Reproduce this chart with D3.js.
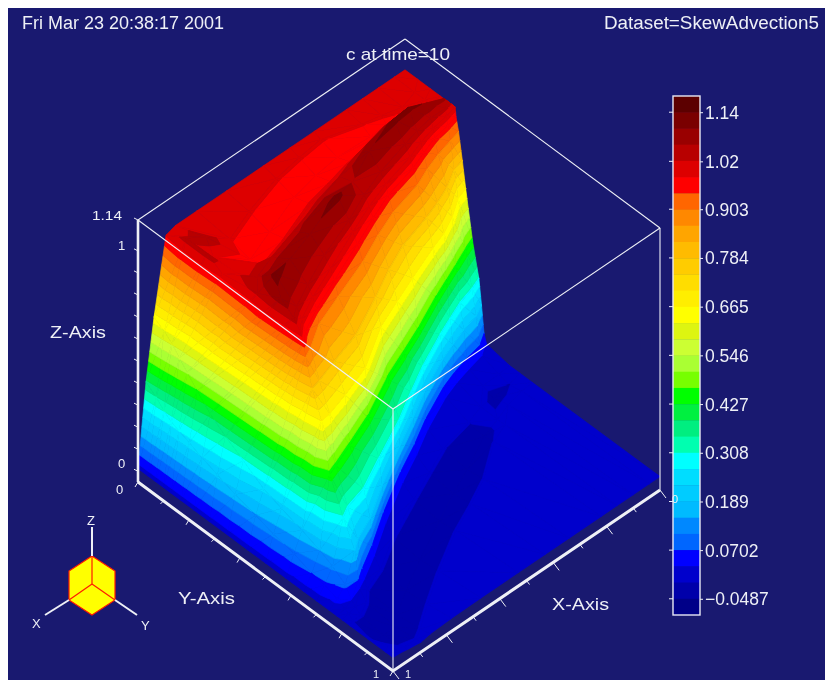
<!DOCTYPE html>
<html><head><meta charset="utf-8">
<script src="https://cdn.jsdelivr.net/npm/d3@7"></script>
<style>html,body{margin:0;background:#fff}svg{display:block}text{font-family:"Liberation Sans",Arial,sans-serif;fill:#eef0f6}</style>
</head><body><svg id="c" width="825" height="680"></svg>
<script>
const bandColors=["#5c0000","#7a0000","#990000","#b80000","#dd0000","#ff0000","#ff6600","#ff8800","#ffa500","#ffbb00","#ffcc00","#ffdd00","#ffee00","#ffff00","#ddf511","#ccff33","#aaff33","#77ff00","#00ff00","#00f040","#00ee80","#00ffb0","#00ffff","#00ddff","#00ccff","#00bbff","#0088ff","#0066ff","#0000ff","#0000cc","#0000aa","#000088"];
const legendTicks=[1.14,1.02,0.903,0.784,0.665,0.546,0.427,0.308,0.189,0.0702,-0.0487];
const legendLabels=["1.14","1.02","0.903","0.784","0.665","0.546","0.427","0.308","0.189","0.0702","\u22120.0487"];
const bandDomain=[-0.0883,1.1796];
const zDomain=[-0.0487,1.14];
const zTicks=[0,0.1,0.2,0.3,0.4,0.5,0.6,0.7,0.8,0.9,1,1.14];
const axisTicks=[0,0.1,0.2,0.3,0.4,0.5,0.6,0.7,0.8,0.9,1];
const vRows=[0,0.03,0.06,0.105,0.14,0.22,0.33,0.47,0.57,0.66,0.78,0.84,0.9,0.96,1];
const uMesh=[
[0,.03,.1,.17,.2,.22,.25,.3,.35,.42,.5,.57,.65,.72,.78,.83,.87,.9,.93,.96,1],
[0,.05,.1,.19,.205,.22,.25,.3,.35,.42,.5,.57,.65,.72,.78,.83,.87,.9,.93,.96,1],
[0,.02,.1,.19,.21,.225,.25,.3,.35,.42,.5,.57,.65,.72,.78,.83,.87,.9,.93,.96,1],
[0,.02,.1,.215,.24,.245,.26,.305,.358,.39,.427,.453,.459,.475,.5,.55,.64,.78,.84,.92,1],
[0,.04,.13,.25,.257,.268,.285,.324,.37,.395,.435,.47,.49,.505,.525,.61,.68,.76,.85,.88,1],
[0,.095,.18,.28,.302,.313,.32,.345,.4,.418,.46,.52,.53,.545,.565,.635,.705,.735,.79,.87,1],
[0,.165,.24,.345,.372,.383,.388,.4,.443,.455,.492,.56,.575,.59,.615,.67,.735,.765,.83,.91,1],
[0,.245,.31,.41,.452,.463,.465,.468,.513,.54,.56,.61,.632,.65,.665,.71,.775,.815,.88,.95,1],
[0,.29,.36,.455,.502,.513,.518,.525,.553,.58,.612,.655,.675,.69,.71,.755,.805,.835,.9,.965,1],
[0,.335,.4,.495,.552,.563,.568,.574,.59,.615,.652,.69,.71,.72,.74,.785,.83,.855,.91,.975,1],
[0,.42,.46,.52,.607,.618,.623,.63,.645,.66,.685,.72,.738,.75,.77,.815,.855,.875,.905,.94,1],
[0,.44,.47,.535,.627,.638,.645,.655,.67,.68,.705,.745,.76,.77,.785,.82,.855,.885,.905,.925,1],
[0,.49,.55,.59,.642,.653,.665,.679,.695,.71,.73,.765,.78,.785,.795,.81,.835,.875,.89,.905,1],
[0,.5,.55,.59,.655,.665,.68,.695,.72,.75,.765,.78,.79,.795,.8,.805,.82,.86,.88,.92,1],
[0,.5,.55,.59,.68,.69,.7,.71,.735,.762,.775,.79,.8,.803,.806,.81,.83,.86,.9,.95,1]
];
const zMesh=[
[.012,.012,.012,.012,.012,.012,.012,.012,.012,.012,.012,.012,.012,.012,.012,.012,.012,.012,.012,.012,.012],
[.01,.002,-.02,-.008,.012,.02,.04,.06,.07,.1,.12,.145,.17,.2,.225,.25,.27,.285,.31,.345,.38],
[.003,-.006,-.02,-.008,.015,.03,.08,.12,.15,.18,.21,.24,.3,.35,.4,.46,.51,.55,.59,.62,.65],
[-.004,-.008,-.02,-.008,.03,.07,.19,.3,.45,.665,.78,.9,.96,1,1.04,1.085,1.03,1,1.04,1.04,.985],
[.005,-.008,-.02,-.008,.03,.07,.19,.3,.45,.665,.78,.9,.96,1,1.04,1.115,1.04,.99,.985,1.05,1],
[.01,-.008,-.02,-.008,.03,.07,.19,.3,.45,.665,.78,.9,.96,1,1.04,1.095,1.045,.985,.96,.985,1],
[.012,-.008,-.02,-.008,.03,.07,.19,.3,.45,.665,.78,.9,.96,1,1.04,1.09,1.045,.985,.96,.985,1],
[.012,-.008,-.02,-.008,.03,.07,.19,.3,.45,.665,.78,.9,.96,1,1.04,1.115,1.045,.985,.96,.985,1],
[.012,-.008,-.02,-.008,.03,.07,.19,.3,.45,.665,.78,.9,.96,1,1.035,1.055,1.035,.985,.96,.985,1],
[.012,-.008,-.02,-.008,.03,.07,.19,.3,.45,.665,.78,.9,.96,1,1.04,1.095,1.045,.985,.96,.985,1],
[.012,-.008,-.02,-.008,.03,.07,.19,.3,.45,.665,.78,.9,.96,1,1.04,1.115,1.045,.985,.96,.985,1],
[.012,.002,0,.002,.03,.07,.19,.3,.45,.665,.78,.9,.96,1,1.04,1.115,1.045,.99,.965,.99,1],
[.012,0,-.02,0,.03,.07,.19,.3,.45,.665,.78,.9,.96,1,1.04,1.095,1.04,.995,.975,.995,1],
[.012,.003,-.01,.003,.03,.07,.19,.3,.45,.665,.78,.9,.96,1,1.03,1.07,1.03,1,1,1,1],
[.012,.01,.01,.01,.03,.07,.19,.3,.45,.665,.78,.9,.96,1,1,1,1,1,1,1,1]
];

const svg=d3.select("#c");
svg.append("rect").attr("x",8).attr("y",8).attr("width",817).attr("height",672).attr("fill","#191970");
const root=svg.append("g").style("filter","blur(0.45px)");

const uX=d3.scaleLinear().domain([0,1]).range([0,-255]);
const uY=d3.scaleLinear().domain([0,1]).range([0,-189]);
const vX=d3.scaleLinear().domain([0,1]).range([0,267]);
const vY=d3.scaleLinear().domain([0,1]).range([0,-181]);
const zH=d3.scaleLinear().domain(zDomain).range([0,262]);
const origin=[393,671];
const proj=(u,v,z)=>[origin[0]+uX(u)+vX(v),origin[1]+uY(u)+vY(v)-zH(z)];
const band=d3.scaleQuantize().domain(bandDomain).range(bandColors.slice().reverse());
const edges=[bandDomain[0],...band.thresholds(),bandDomain[1]];
const line=d3.line();

function clip(tri,lo,hi){
  const cut=(pts,keep,val)=>{const out=[];pts.forEach((p,i)=>{const q=pts[(i+1)%pts.length];const a=keep(p[2]),b=keep(q[2]);
    if(a)out.push(p);
    if(a!==b){const t=(val-p[2])/(q[2]-p[2]);out.push([p[0]+t*(q[0]-p[0]),p[1]+t*(q[1]-p[1]),val]);}});return out;};
  let r=cut(tri,z=>z>=lo,lo); if(r.length) r=cut(r,z=>z<=hi,hi); return r;
}
const polys=[];
for(let r=vRows.length-2;r>=0;r--){
  for(let c=uMesh[0].length-2;c>=0;c--){
    const P=(rr,cc)=>[uMesh[rr][cc],vRows[rr],zMesh[rr][cc]];
    const a=P(r+1,c+1),b=P(r+1,c),d=P(r,c+1),e=P(r,c);
    [[a,b,d],[b,d,e]].forEach(t=>{
      for(let k=0;k<edges.length-1;k++){
        const lo=edges[k],hi=edges[k+1];
        if(d3.max(t,p=>p[2])<lo||d3.min(t,p=>p[2])>hi)continue;
        const pg=clip(t,lo,hi);
        if(pg.length>=3)polys.push({pts:pg.map(p=>proj(p[0],p[1],p[2])),color:band((lo+hi)/2)});
      }
    });
  }
}
root.append("g").selectAll("path").data(polys).join("path")
  .attr("d",d=>line(d.pts)+"Z").attr("fill",d=>d.color).attr("stroke",d=>d.color).attr("stroke-width",0.7).attr("stroke-linejoin","round");

// wireframe
const zLo=zDomain[0],zHi=zDomain[1];
const corner=(u,v,z)=>proj(u,v,z);
const wire=[[[1,0,zHi],[1,1,zHi]],[[1,1,zHi],[0,1,zHi]],[[0,1,zHi],[0,0,zHi]],[[0,0,zHi],[1,0,zHi]],[[0,0,zHi],[0,0,zLo]],[[0,1,zHi],[0,1,zLo]]];
const w=root.append("g").attr("stroke","#eef0f6").attr("fill","none");
w.selectAll("path.w").data(wire).join("path").attr("class","w").attr("stroke-width",1.1).attr("d",d=>line(d.map(p=>corner(...p))));
w.append("path").attr("stroke-width",2.6).attr("d",line([corner(1,0,zHi),corner(1,0,zLo)]));
w.append("path").attr("stroke-width",3).attr("d",line([corner(1,0,zLo),corner(0,0,zLo),corner(0,1,zLo)]));
// axis ticks
axisTicks.forEach((t,i)=>{
  const major=i%2===0;
  const a=corner(1-t,0,zLo), b=corner(0,1-t,zLo);
  w.append("path").attr("stroke-width",1).attr("d",line([a,[a[0]-3,a[1]+(major?5:3)]]));
  w.append("path").attr("stroke-width",1).attr("d",line([b,[b[0]+(major?6:3),b[1]+(major?8:4)]]));
});
zTicks.forEach(t=>{const a=corner(1,0,t);w.append("path").attr("stroke-width",1).attr("d",line([a,[a[0]-4,a[1]-2]]));});

// axis text
const T=(s,x,y,size,len,anchor)=>{const t=root.append("text").attr("x",x).attr("y",y).attr("font-size",size).text(s);
  if(anchor)t.attr("text-anchor",anchor); if(len)t.attr("textLength",len).attr("lengthAdjust","spacingAndGlyphs");return t;};
T("Fri Mar 23 20:38:17 2001",22,29,18,202);
T("Dataset=SkewAdvection5",604,29,18,215);
T("c at time=10",346,60,17,104);
T("Z-Axis",50,338,17,56);
T("Y-Axis",178,604,17,57);
T("X-Axis",552,610,17,57);
T("1.14",92,220,13,30);
T("1",118,250,13);
T("0",118,468,13);
T("0",116,494,13);
T("1",373,678,11);
T("1",405,678,11);

// colour bar
const barY=d3.scaleLinear().domain(bandDomain).range([615,96]);
const bar=root.append("g");
bar.selectAll("rect").data(bandColors).join("rect")
  .attr("x",673).attr("width",27)
  .attr("y",(d,i)=>barY(edges[edges.length-1-i]))
  .attr("height",(d,i)=>barY(edges[edges.length-2-i])-barY(edges[edges.length-1-i])+0.4)
  .attr("fill",d=>d);
bar.append("rect").attr("x",673).attr("y",96).attr("width",27).attr("height",519).attr("fill","none").attr("stroke","#e8e8f4").attr("stroke-width",1.4);
const legendAxis=d3.axisRight(barY).tickValues(legendTicks).tickSize(3).tickPadding(2).tickFormat((d,i)=>legendLabels[i]);
const ax=bar.append("g").attr("transform","translate(702,0)").call(legendAxis);
ax.select(".domain").remove();
ax.selectAll("line").attr("stroke","#eef0f6").attr("x1",-2).attr("x2",1);
ax.selectAll("text").attr("font-size",17.5).attr("x",3).attr("fill","#eef0f6").attr("dy","0.34em");
bar.selectAll("line.t").data(legendTicks).join("line").attr("class","t").attr("x1",669).attr("x2",673).attr("y1",d=>barY(d)).attr("y2",d=>barY(d)).attr("stroke","#eef0f6");
T("0",672,503,11);

// orientation triad
const triad=[92,584];
const triS=d3.scaleLinear().domain([0,1]).range([0,1]);
const hexTop=[[0,-28],[23,-13],[23,16],[0,31],[-23,16],[-23,-13]];
const tg=root.append("g").attr("transform",`translate(${triad})`);
tg.append("path").attr("d",line(hexTop.map(p=>[triS(p[0]),triS(p[1])]))+"Z").attr("fill","#ffff00").attr("stroke","#ff1a00").attr("stroke-width",1.2);
[[[0,0],[0,-28]],[[0,0],[-23,16]],[[0,0],[23,16]]].forEach(s=>tg.append("path").attr("d",line(s)).attr("stroke","#ff1a00").attr("stroke-width",1.2));
[[[0,-28],[0,-57]],[[-23,16],[-47,31]],[[23,16],[45,31]]].forEach(s=>tg.append("path").attr("d",line(s)).attr("stroke","#eef0f6").attr("stroke-width",2));
T("Z",87,525,13);T("X",32,628,13);T("Y",141,630,13);
</script></body></html>
